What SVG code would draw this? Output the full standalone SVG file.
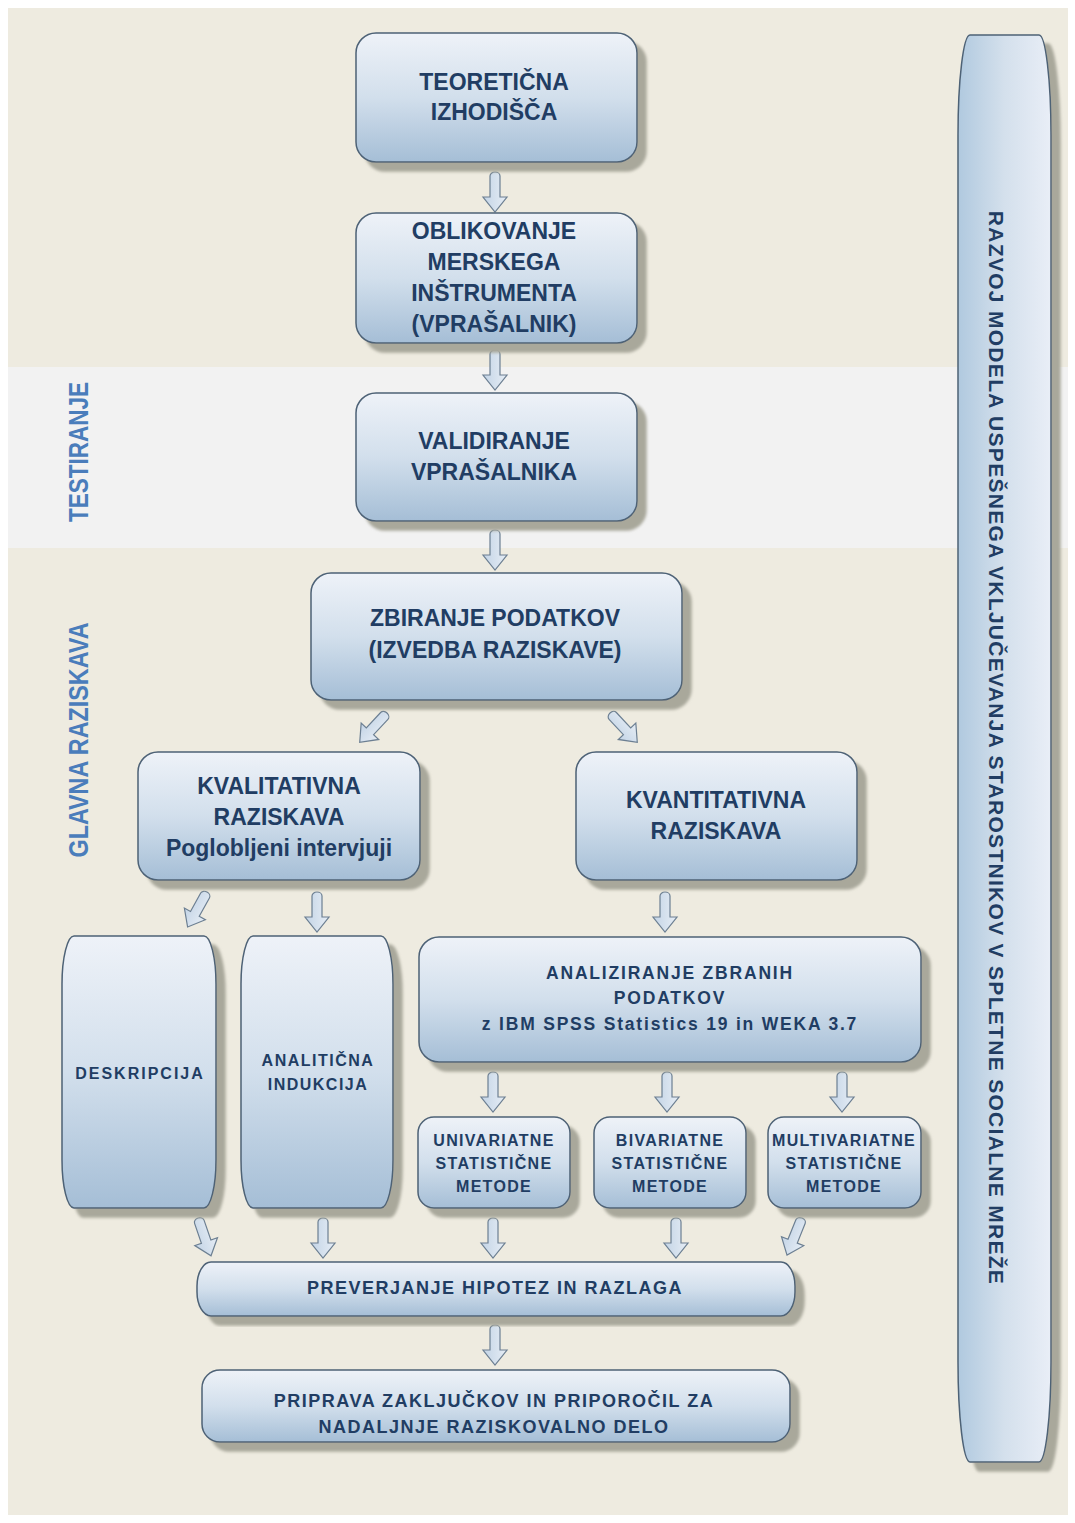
<svg xmlns="http://www.w3.org/2000/svg" width="1075" height="1523" viewBox="0 0 1075 1523">
  <style>
    .box { fill: url(#gBox); stroke: #4e6276; stroke-width: 1.5; filter: url(#shadow); }
    .bar { fill: url(#gBar); stroke: #4e6276; stroke-width: 1.5; filter: url(#shadow); }
    .arrow { fill: url(#gArrow); stroke: #6c7f92; stroke-width: 1.2; }
    .t { font-family: "Liberation Sans", Arial, sans-serif; font-weight: bold; fill: #213d63; text-anchor: middle; }
    .big { font-size: 23px; }
    .mid { font-size: 17.5px; letter-spacing: 1.8px; }
    .small { font-size: 16px; letter-spacing: 1.3px; }
    .wide { font-size: 18px; letter-spacing: 1.5px; }
    .side { font-family: "Liberation Sans", Arial, sans-serif; font-weight: bold; font-size: 28px; fill: #4a7dbb; text-anchor: middle; }
  </style>
  <defs>
    <linearGradient id="gBox" x1="0" y1="0" x2="0" y2="1">
      <stop offset="0" stop-color="#eef2f8"/>
      <stop offset="0.5" stop-color="#d2dfec"/>
      <stop offset="1" stop-color="#a5bed6"/>
    </linearGradient>
    <linearGradient id="gBar" x1="0" y1="0" x2="1" y2="0">
      <stop offset="0" stop-color="#b0c9df"/>
      <stop offset="0.5" stop-color="#d4e0ec"/>
      <stop offset="1" stop-color="#e9eef7"/>
    </linearGradient>
    <linearGradient id="gArrow" x1="0" y1="0" x2="1" y2="0">
      <stop offset="0" stop-color="#c3d4e6"/>
      <stop offset="1" stop-color="#e6edf5"/>
    </linearGradient>
    <filter id="shadow" x="-10%" y="-10%" width="130%" height="130%">
      <feFlood flood-color="#a9a89b"/>
      <feComposite in2="SourceAlpha" operator="in"/>
      <feOffset dx="9" dy="9"/>
      <feGaussianBlur stdDeviation="1.5"/>
      <feMerge>
        <feMergeNode/>
        <feMergeNode in="SourceGraphic"/>
      </feMerge>
    </filter>
    <!-- hollow block arrow pointing down, origin at the tail centre -->
    <path id="arr" class="arrow" d="M -5 4 A 5 4 0 0 1 5 4 L 5 25 L 12 25 L 0 40 L -12 25 L -5 25 Z"/>
  </defs>

  <!-- page background and the testing band -->
  <rect x="0" y="0" width="1075" height="1523" fill="#ffffff"/>
  <rect x="8" y="8" width="1060" height="1507" fill="#eeebe0"/>
  <rect x="8" y="367" width="1060" height="181" fill="#f2f2f2"/>

  <!-- phase labels -->
  <text class="side" transform="translate(88,452) rotate(-90)" textLength="140" lengthAdjust="spacingAndGlyphs">TESTIRANJE</text>
  <text class="side" transform="translate(88,740) rotate(-90)" textLength="235" lengthAdjust="spacingAndGlyphs">GLAVNA RAZISKAVA</text>

  <!-- connectors -->
  <g id="connectors">
    <use href="#arr" transform="translate(495,172)"/>
    <use href="#arr" transform="translate(495,350)"/>
    <use href="#arr" transform="translate(495,530)"/>
    <use href="#arr" transform="translate(387,713) rotate(43)"/>
    <use href="#arr" transform="translate(610,713) rotate(-43)"/>
    <use href="#arr" transform="translate(207,892) rotate(29)"/>
    <use href="#arr" transform="translate(317,892)"/>
    <use href="#arr" transform="translate(665,892)"/>
    <use href="#arr" transform="translate(493,1072)"/>
    <use href="#arr" transform="translate(667,1072)"/>
    <use href="#arr" transform="translate(842,1072)"/>
    <use href="#arr" transform="translate(198,1218) rotate(-19)"/>
    <use href="#arr" transform="translate(323,1218)"/>
    <use href="#arr" transform="translate(493,1218)"/>
    <use href="#arr" transform="translate(676,1218)"/>
    <use href="#arr" transform="translate(802,1218) rotate(22)"/>
    <use href="#arr" transform="translate(495,1325)"/>
  </g>

  <!-- nodes -->
  <g id="teoreticna">
    <rect class="box" x="356" y="33" width="281" height="129" rx="20"/>
    <text class="t big" x="494" y="90">TEORETIČNA</text>
    <text class="t big" x="494" y="120">IZHODIŠČA</text>
  </g>
  <g id="oblikovanje">
    <rect class="box" x="356" y="213" width="281" height="130" rx="20"/>
    <text class="t big" x="494" y="239">OBLIKOVANJE</text>
    <text class="t big" x="494" y="270">MERSKEGA</text>
    <text class="t big" x="494" y="301">INŠTRUMENTA</text>
    <text class="t big" x="494" y="332">(VPRAŠALNIK)</text>
  </g>
  <g id="validiranje">
    <rect class="box" x="356" y="393" width="281" height="128" rx="20"/>
    <text class="t big" x="494" y="449">VALIDIRANJE</text>
    <text class="t big" x="494" y="480">VPRAŠALNIKA</text>
  </g>
  <g id="zbiranje">
    <rect class="box" x="311" y="573" width="371" height="127" rx="20"/>
    <text class="t big" x="495" y="626">ZBIRANJE PODATKOV</text>
    <text class="t big" x="495" y="658">(IZVEDBA RAZISKAVE)</text>
  </g>
  <g id="kvalitativna">
    <rect class="box" x="138" y="752" width="282" height="128" rx="20"/>
    <text class="t big" x="279" y="794">KVALITATIVNA</text>
    <text class="t big" x="279" y="825">RAZISKAVA</text>
    <text class="t big" x="279" y="856">Poglobljeni intervjuji</text>
  </g>
  <g id="kvantitativna">
    <rect class="box" x="576" y="752" width="281" height="128" rx="20"/>
    <text class="t big" x="716" y="808">KVANTITATIVNA</text>
    <text class="t big" x="716" y="839">RAZISKAVA</text>
  </g>
  <g id="deskripcija">
    <rect class="box" x="62" y="936" width="154" height="272" rx="12" ry="48"/>
    <text class="t small" x="140" y="1079" style="letter-spacing:2px">DESKRIPCIJA</text>
  </g>
  <g id="analiticna">
    <rect class="box" x="241" y="936" width="152" height="272" rx="12" ry="48"/>
    <text class="t small" x="318" y="1066" style="letter-spacing:1.5px">ANALITIČNA</text>
    <text class="t small" x="318" y="1090" style="letter-spacing:1.5px">INDUKCIJA</text>
  </g>
  <g id="analiziranje">
    <rect class="box" x="419" y="937" width="502" height="125" rx="20"/>
    <text class="t mid" x="670" y="979">ANALIZIRANJE ZBRANIH</text>
    <text class="t mid" x="670" y="1004">PODATKOV</text>
    <text class="t mid" x="670" y="1030">z IBM SPSS Statistics 19 in WEKA 3.7</text>
  </g>
  <g id="univariatne">
    <rect class="box" x="418" y="1117" width="152" height="91" rx="16"/>
    <text class="t small" x="494" y="1146">UNIVARIATNE</text>
    <text class="t small" x="494" y="1169">STATISTIČNE</text>
    <text class="t small" x="494" y="1192">METODE</text>
  </g>
  <g id="bivariatne">
    <rect class="box" x="594" y="1117" width="152" height="91" rx="16"/>
    <text class="t small" x="670" y="1146">BIVARIATNE</text>
    <text class="t small" x="670" y="1169">STATISTIČNE</text>
    <text class="t small" x="670" y="1192">METODE</text>
  </g>
  <g id="multivariatne">
    <rect class="box" x="768" y="1117" width="153" height="91" rx="16"/>
    <text class="t small" x="844" y="1146">MULTIVARIATNE</text>
    <text class="t small" x="844" y="1169">STATISTIČNE</text>
    <text class="t small" x="844" y="1192">METODE</text>
  </g>
  <g id="preverjanje">
    <rect class="box" x="197" y="1262" width="598" height="54" rx="14" ry="24"/>
    <text class="t wide" x="495" y="1294">PREVERJANJE HIPOTEZ IN RAZLAGA</text>
  </g>
  <g id="priprava">
    <rect class="box" x="202" y="1370" width="588" height="72" rx="18"/>
    <text class="t wide" x="494" y="1407">PRIPRAVA ZAKLJUČKOV IN PRIPOROČIL ZA</text>
    <text class="t wide" x="494" y="1433">NADALJNJE RAZISKOVALNO DELO</text>
  </g>
  <g id="razvoj-modela">
    <rect class="bar" x="958" y="35" width="93" height="1427" rx="12" ry="100"/>
    <text class="t" x="0" y="0" transform="translate(989,748) rotate(90)" style="font-size:21px;letter-spacing:1.3px">RAZVOJ MODELA USPEŠNEGA VKLJUČEVANJA STAROSTNIKOV V SPLETNE SOCIALNE MREŽE</text>
  </g>
</svg>
